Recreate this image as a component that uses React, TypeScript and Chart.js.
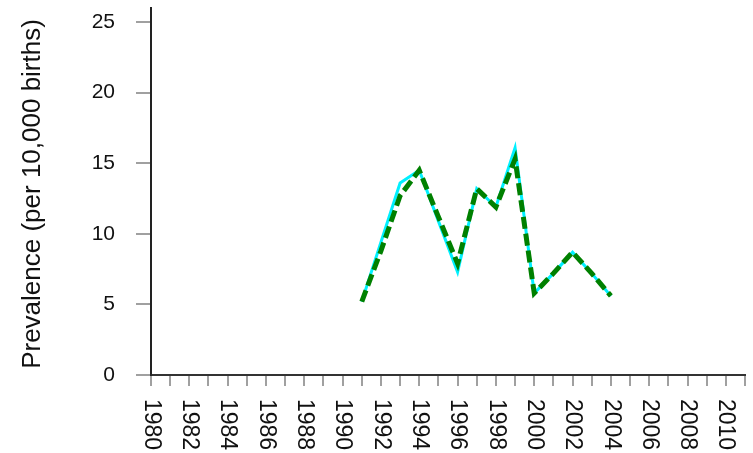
import React, { useEffect, useRef } from "react";
import { Chart, registerables } from "chart.js";

Chart.register(...registerables);

const years = [1991, 1992, 1993, 1994, 1995, 1996, 1997, 1998, 1999, 2000, 2001, 2002, 2003, 2004];
const seriesCyan = [5.2, 9.4, 13.6, 14.5, 10.9, 7.3, 13.2, 11.9, 16.1, 5.8, 7.2, 8.7, 7.2, 5.6];
const seriesGreen = [5.2, 8.8, 12.7, 14.5, 11.2, 7.9, 13.2, 11.9, 15.3, 5.8, 7.2, 8.7, 7.2, 5.6];
const xTickYears = Array.from({ length: 32 }, (_, i) => 1980 + i);
const xLabelYears = [1980, 1982, 1984, 1986, 1988, 1990, 1992, 1994, 1996, 1998, 2000, 2002, 2004, 2006, 2008, 2010];
const yTickValues = [0, 5, 10, 15, 20, 25];
const yTitle = "Prevalence (per 10,000 births)";

const FONT = "Arial, 'Liberation Sans', Helvetica, sans-serif";

const textPlugin = {
  id: "customText",
  afterDraw(chart: any) {
    const ctx = chart.ctx;
    const xs = chart.scales.x;
    const top = chart.chartArea.bottom + 24;
    ctx.save();
    ctx.fillStyle = "#111";
    ctx.font = `23px ${FONT}`;
    ctx.textAlign = "left";
    ctx.textBaseline = "middle";
    xLabelYears.forEach((yr) => {
      const px = xs.getPixelForValue(yr);
      ctx.save();
      ctx.translate(px, top);
      ctx.rotate(Math.PI / 2);
      ctx.fillText(String(yr), 0, 0);
      ctx.restore();
    });
    // y-axis title
    ctx.font = `26px ${FONT}`;
    ctx.textAlign = "center";
    ctx.textBaseline = "alphabetic";
    ctx.translate(40, 194);
    ctx.rotate(-Math.PI / 2);
    ctx.fillText(yTitle, 0, 0);
    ctx.restore();
  },
};

export default function App() {
  const ref = useRef<HTMLCanvasElement | null>(null);
  useEffect(() => {
    document.body.style.margin = "0";
    const canvas = ref.current;
    if (!canvas) return;
    const chart = new Chart(canvas, {
      type: "line",
      data: {
        datasets: [
          {
            label: "Cyan",
            data: years.map((y, i) => ({ x: y, y: seriesCyan[i] })),
            borderColor: "#00f0ff",
            borderWidth: 3,
            pointRadius: 0,
            fill: false,
            tension: 0,
            order: 2,
          },
          {
            label: "Green",
            data: years.map((y, i) => ({ x: y, y: seriesGreen[i] })),
            borderColor: "#008000",
            borderWidth: 5,
            borderDash: [12, 5],
            pointRadius: 0,
            fill: false,
            tension: 0,
            order: 1,
          },
        ],
      },
      options: {
        animation: false,
        responsive: false,
        maintainAspectRatio: false,
        layout: { padding: { top: 8, right: 8, left: 0, bottom: 0 } },
        plugins: { legend: { display: false }, tooltip: { enabled: false } },
        scales: {
          x: {
            type: "linear",
            min: 1980,
            max: 2011,
            afterBuildTicks: (scale: any) => {
              scale.ticks = xTickYears.map((v) => ({ value: v }));
            },
            afterFit: (scale: any) => {
              scale.height = 78;
              scale.paddingLeft = 0;
              scale.paddingRight = 0;
            },
            ticks: { display: false },
            grid: {
              drawOnChartArea: false,
              drawTicks: true,
              tickLength: 11,
              color: "#a0a0a0",
              lineWidth: 2,
            },
            border: { display: true, color: "#333", width: 2 },
          },
          y: {
            type: "linear",
            min: 0,
            max: 26,
            afterBuildTicks: (scale: any) => {
              scale.ticks = yTickValues.map((v) => ({ value: v }));
            },
            afterFit: (scale: any) => {
              scale.width = 151;
              scale.paddingTop = 0;
              scale.paddingBottom = 0;
            },
            ticks: {
              color: "#111",
              padding: 21,
              font: { size: 21, family: FONT },
            },
            grid: {
              drawOnChartArea: false,
              drawTicks: true,
              tickLength: 15,
              color: "#a0a0a0",
              lineWidth: 2,
            },
            border: { display: true, color: "#222", width: 2 },
          },
        },
      },
      plugins: [textPlugin],
    });
    return () => chart.destroy();
  }, []);
  return (
    <div style={{ width: 753, height: 453 }}>
      <canvas ref={ref} width={753} height={453} style={{ display: "block" }} />
    </div>
  );
}
